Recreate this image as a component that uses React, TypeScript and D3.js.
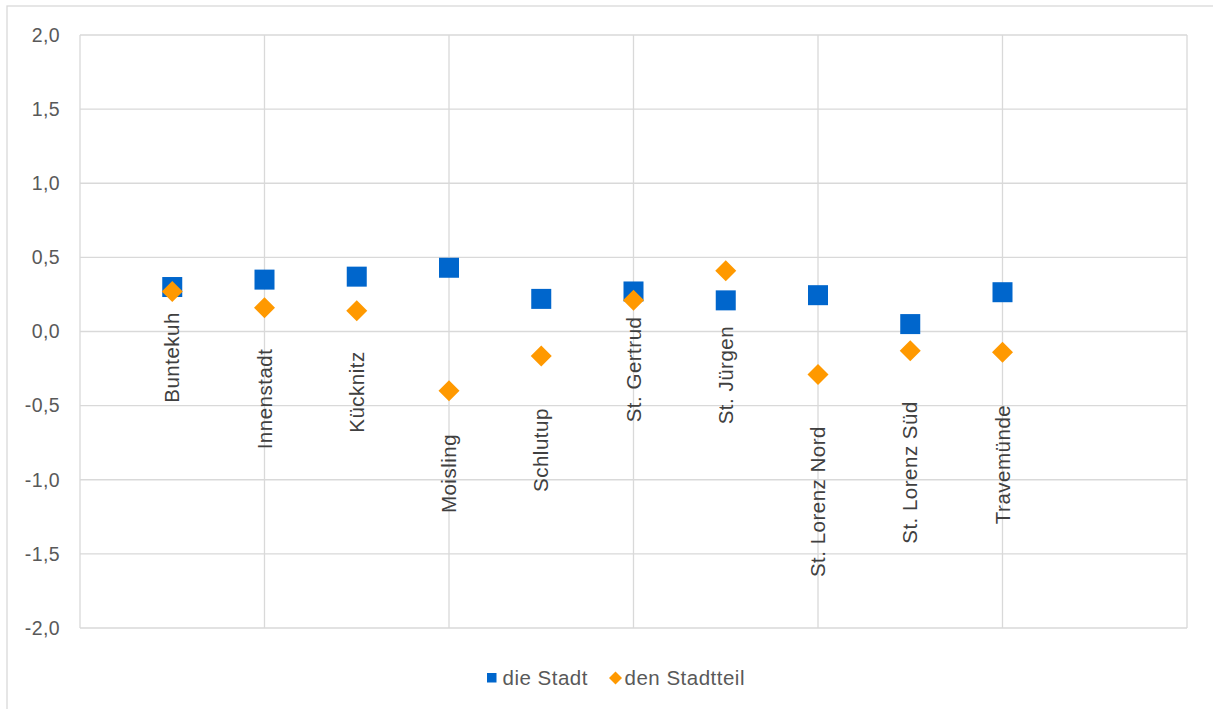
import React from "react";
import * as d3 from "d3";

const categories = [
  "Buntekuh",
  "Innenstadt",
  "Kücknitz",
  "Moisling",
  "Schlutup",
  "St. Gertrud",
  "St. Jürgen",
  "St. Lorenz Nord",
  "St. Lorenz Süd",
  "Travemünde",
];
const dieStadt = [0.30, 0.35, 0.37, 0.43, 0.22, 0.27, 0.21, 0.245, 0.05, 0.265];
const denStadtteil = [0.27, 0.16, 0.14, -0.40, -0.165, 0.21, 0.41, -0.29, -0.13, -0.14];
// vertical centre of each (manually placed) data label, in value units
const labelCenter = [-0.175, -0.455, -0.408, -0.958, -0.8, -0.256, -0.294, -1.147, -0.951, -0.897];
const yTicks = [2, 1.5, 1, 0.5, 0, -0.5, -1, -1.5, -2];
const xGridTicks = [0, 2, 4, 6, 8, 10, 12];
const seriesNames = ["die Stadt", "den Stadtteil"];

const W = 1213;
const H = 709;
const BLUE = "#0066CC";
const ORANGE = "#FF9900";
const GRID = "#D9D9D9";
const TEXT = "#595959";
const FONT = "'Liberation Sans', Arial, sans-serif";

export default function App() {
  const x = d3.scaleLinear().domain([0, 12]).range([80, 1187]);
  const y = d3.scaleLinear().domain([-2, 2]).range([628, 35]);
  const fmt = (v: number) => d3.format(".1f")(v).replace(".", ",").replace("−", "-");
  const sq = 20;
  const dm = 10.5;
  const diamond = (cx: number, cy: number, r: number) =>
    `M${cx},${cy - r}L${cx + r},${cy}L${cx},${cy + r}L${cx - r},${cy}Z`;

  return (
    <div style={{ position: "absolute", left: 0, top: 0 }}>
      <svg width={W} height={H} style={{ display: "block", fontFamily: FONT }}>
        <rect x={0} y={0} width={W} height={H} fill="#fff" />
        {/* chart area border */}
        <rect x={7} y={6} width={W + 10} height={H + 10} fill="#fff" stroke={GRID} strokeWidth={1.3} />
        {/* horizontal gridlines */}
        {yTicks.map((t) => (
          <line key={"h" + t} x1={x(0)} x2={x(12)} y1={y(t)} y2={y(t)} stroke={GRID} strokeWidth={1.3} />
        ))}
        {/* vertical gridlines */}
        {xGridTicks.map((t) => (
          <line key={"v" + t} x1={x(t)} x2={x(t)} y1={y(2)} y2={y(-2)} stroke={GRID} strokeWidth={1.3} />
        ))}
        {/* y tick labels */}
        {yTicks.map((t) => (
          <text key={"yl" + t} x={60} y={y(t)} dy="0.35em" textAnchor="end" fontSize={19.5} fill={TEXT} letterSpacing={0.4}>
            {fmt(t)}
          </text>
        ))}
        {/* die Stadt squares */}
        {dieStadt.map((v, i) => (
          <rect key={"s" + i} x={x(i + 1) - sq / 2} y={y(v) - sq / 2} width={sq} height={sq} fill={BLUE} />
        ))}
        {/* den Stadtteil diamonds */}
        {denStadtteil.map((v, i) => (
          <path key={"d" + i} d={diamond(x(i + 1), y(v), dm)} fill={ORANGE} />
        ))}
        {/* rotated data labels */}
        {categories.map((c, i) => (
          <text
            key={"c" + i}
            transform={`translate(${x(i + 1)},${y(labelCenter[i])}) rotate(-90)`}
            textAnchor="middle"
            dy="0.35em"
            fontSize={20.5}
            fill="#404040"
            letterSpacing={0.5}
          >
            {c}
          </text>
        ))}
        {/* legend */}
        <rect x={487} y={673} width={9.5} height={9.5} fill={BLUE} />
        <text x={502.5} y={678} dy="0.35em" fontSize={20.5} fill={TEXT} letterSpacing={0.5}>
          {seriesNames[0]}
        </text>
        <path d={diamond(615.5, 678, 6.5)} fill={ORANGE} />
        <text x={624.5} y={678} dy="0.35em" fontSize={20.5} fill={TEXT} letterSpacing={0.5}>
          {seriesNames[1]}
        </text>
      </svg>
    </div>
  );
}
